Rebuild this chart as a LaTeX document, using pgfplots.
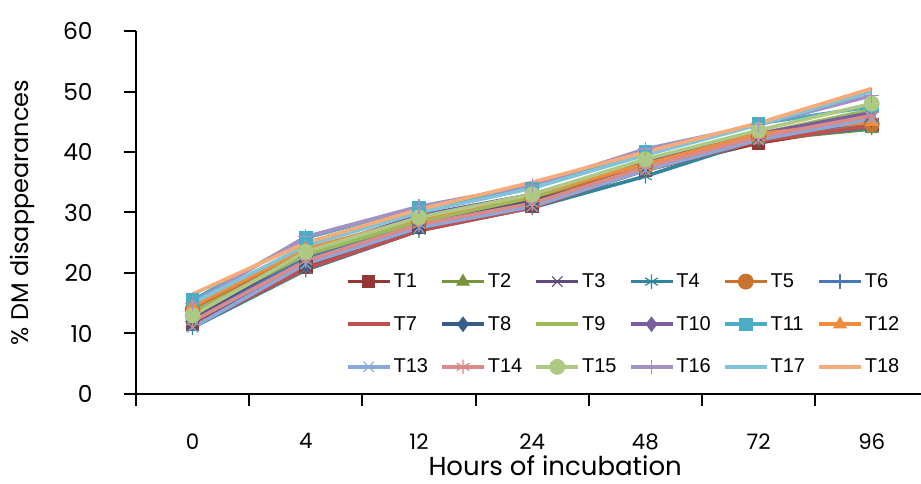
\documentclass[border=0pt]{standalone}
\usepackage{fontspec}
\setmainfont{Poppins}
\newfontfamily\legfont{Liberation Sans}
\usepackage{pgfplots}
\usepackage{pgfplotstable}
\pgfplotsset{compat=1.18}

% DM disappearance (%), one column per treatment; x = category index of the incubation time
\pgfplotstableread{
x T1 T2 T3 T4 T5 T6 T7 T8 T9 T10 T11 T12 T13 T14 T15 T16 T17 T18
0 11.5 13.0 12.5 11.0 14.0 12.0 11.2 12.0 13.5 13.0 15.5 14.5 11.0 12.0 13.0 15.0 15.0 16.5
1 21.0 22.0 23.0 20.5 23.5 22.5 20.7 21.5 23.0 23.5 25.8 24.0 21.5 22.0 23.5 26.0 24.5 25.0
2 27.5 28.0 28.5 27.0 28.5 28.0 27.0 27.5 28.5 29.5 30.8 29.0 27.5 28.0 29.2 31.0 30.0 30.5
3 31.0 31.5 32.0 30.8 32.5 31.5 30.8 31.5 32.5 33.0 34.0 33.0 31.0 31.5 33.0 34.5 34.0 35.0
4 37.0 37.5 38.0 36.0 37.5 37.5 37.0 37.5 38.5 38.5 40.0 38.0 37.0 37.5 38.8 40.5 39.5 40.0
5 41.5 42.0 42.5 42.0 42.5 42.5 41.8 42.5 43.0 43.0 44.7 43.0 42.0 42.5 43.6 44.5 44.5 44.8
6 44.5 43.8 46.0 44.0 44.6 45.0 44.3 45.4 47.0 46.5 47.5 45.0 45.5 46.0 48.0 49.3 50.0 50.5
}\dmdata

\definecolor{c1}{HTML}{953735}
\definecolor{c2}{HTML}{77933C}
\definecolor{c3}{HTML}{604A7B}
\definecolor{c4}{HTML}{31859C}
\definecolor{c5}{HTML}{C8742F}
\definecolor{c6}{HTML}{4A77B8}
\definecolor{c7}{HTML}{C0504D}
\definecolor{c8}{HTML}{385D8A}
\definecolor{c9}{HTML}{9BBB59}
\definecolor{c10}{HTML}{7B5EA0}
\definecolor{c11}{HTML}{4BACC6}
\definecolor{c12}{HTML}{F08C3E}
\definecolor{c13}{HTML}{8AA8DA}
\definecolor{c14}{HTML}{DA8A88}
\definecolor{c15}{HTML}{AEC983}
\definecolor{c16}{HTML}{A592C5}
\definecolor{c17}{HTML}{80C4DA}
\definecolor{c18}{HTML}{F7AB78}

\pgfplotsset{
  ser/.style 2 args={color=#1, line width=2.7pt, mark=#2,
    mark options={solid, fill=#1, line width=0.9pt}, mark size=4.6pt},
}

\begin{document}
\begin{tikzpicture}
\begin{axis}[
  scale only axis,
  width=588.75pt, height=272.25pt,
  xmin=-0.5, xmax=6.435,
  ymin=0, ymax=60,
  axis x line*=bottom, axis y line*=left,
  axis line style={line width=1.5pt, black},
  every tick/.style={line width=1.5pt, black},
  tick align=outside,
  major tick length=9pt,
  xtick={-0.5,0.5,1.5,2.5,3.5,4.5,5.5},
  xticklabels={0,4,12,24,48,72,96},
  ytick={0,10,...,60},
  /pgf/number format/assume math mode=true,
  yticklabel style={font=\fontsize{17.5}{17.5}\selectfont, xshift=-20pt},
  xticklabel style={font=\fontsize{16}{16}\selectfont, xshift=42.45pt, yshift=-17pt},
  xlabel={Hours of incubation},
  ylabel={\% DM disappearances},
  xlabel style={font=\fontsize{19.5}{19.5}\selectfont, at={(axis description cs:0.534,0)}, anchor=center, yshift=-54pt},
  ylabel style={font=\fontsize{18}{18}\selectfont, at={(axis description cs:-0.1452,0.5)}, anchor=center},
  clip=false,
  legend columns=6,
  legend image code/.code={
    \draw[mark repeat=2, mark phase=2] plot coordinates {(0pt,0pt) (15.75pt,0pt) (31.5pt,0pt)};},
  legend style={at={(axis description cs:0.262,0.347)}, anchor=north west,
    draw=none, fill=none, font=\legfont\fontsize{15}{15}\selectfont,
    row sep=16pt,
    nodes={text width=30pt, inner xsep=1.5pt, align=left},
    /tikz/every even column/.append style={column sep=3.5pt}},
]
\addplot[ser={c1}{square*}] table[x=x,y=T1] {\dmdata};
\addplot[ser={c2}{triangle*}, mark size=5.2pt] table[x=x,y=T2] {\dmdata};
\addplot[ser={c3}{x}, mark size=5.5pt] table[x=x,y=T3] {\dmdata};
\addplot[ser={c4}{asterisk}, mark size=5.5pt] table[x=x,y=T4] {\dmdata};
\addplot[ser={c5}{*}, mark size=5.5pt] table[x=x,y=T5] {\dmdata};
\addplot[ser={c6}{+}, mark size=5.5pt] table[x=x,y=T6] {\dmdata};
\addplot[ser={c7}{none}] table[x=x,y=T7] {\dmdata};
\addplot[ser={c8}{diamond*}, mark size=5.2pt] table[x=x,y=T8] {\dmdata};
\addplot[ser={c9}{none}] table[x=x,y=T9] {\dmdata};
\addplot[ser={c10}{diamond*}, mark size=5.2pt] table[x=x,y=T10] {\dmdata};
\addplot[ser={c11}{square*}] table[x=x,y=T11] {\dmdata};
\addplot[ser={c12}{triangle*}, mark size=5.2pt] table[x=x,y=T12] {\dmdata};
\addplot[ser={c13}{x}, mark size=5.5pt] table[x=x,y=T13] {\dmdata};
\addplot[ser={c14}{asterisk}, mark size=5.5pt] table[x=x,y=T14] {\dmdata};
\addplot[ser={c15}{*}, mark size=5.5pt] table[x=x,y=T15] {\dmdata};
\addplot[ser={c16}{+}, mark size=5.5pt] table[x=x,y=T16] {\dmdata};
\addplot[ser={c17}{none}] table[x=x,y=T17] {\dmdata};
\addplot[ser={c18}{none}] table[x=x,y=T18] {\dmdata};
\legend{T1,T2,T3,T4,T5,T6,T7,T8,T9,T10,T11,T12,T13,T14,T15,T16,T17,T18}
\end{axis}
\pgfresetboundingbox
\path (current axis.south west) ++(-102pt,-67.5pt) coordinate (bl);
\path (current axis.south west) ++(588.75pt,295.5pt) coordinate (tr);
\path[use as bounding box] (bl) rectangle (tr);
\end{tikzpicture}
\end{document}
